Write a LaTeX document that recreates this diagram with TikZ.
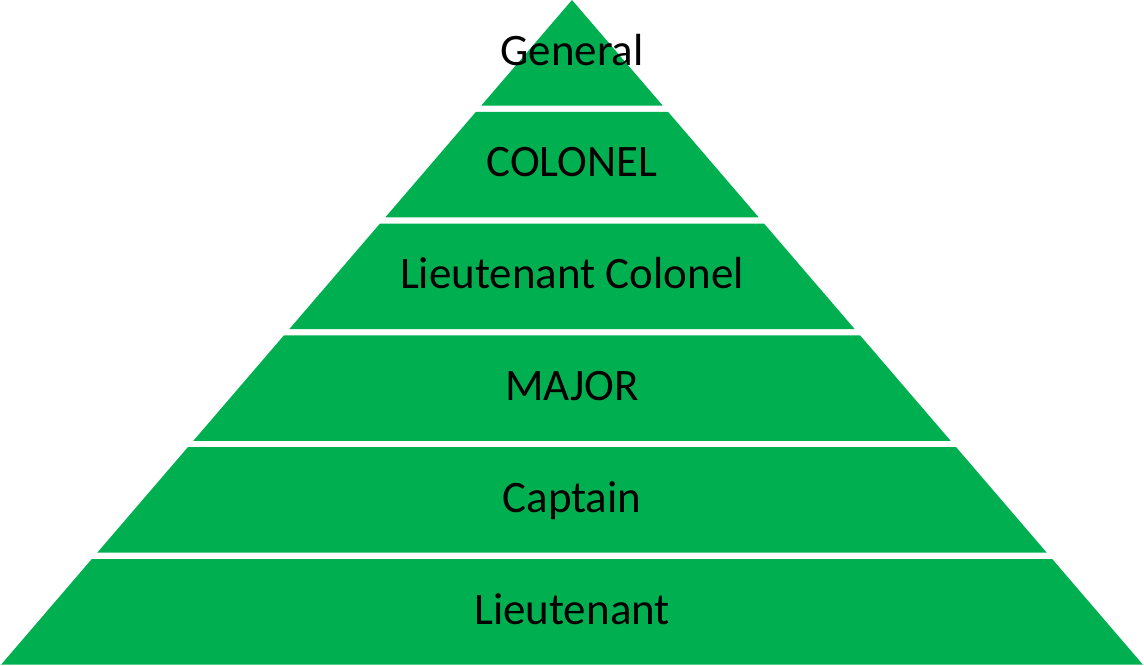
\documentclass[tikz,border=0pt]{standalone}
\usepackage{fontspec}
\setmainfont{Carlito}
\definecolor{rankgreen}{HTML}{00B050}

\begin{document}
\begin{tikzpicture}[x=0.02cm,y=-0.02cm,
    rank/.style={anchor=base,text=black,inner sep=0pt,font=\fontsize{25.6}{30}\selectfont}]
      \useasboundingbox (0,0) rectangle (1144,666);
      % bands from the top, each cut from the same triangle
      \foreach \k/\rname/\rtext in {0/general/General,1/colonel/COLONEL,
          2/ltcolonel/Lieutenant Colonel,3/major/MAJOR,4/captain/Captain,
          5/lieutenant/Lieutenant}{
        \pgfmathsetmacro{\ya}{111.8*\k}
        \pgfmathsetmacro{\yb}{111.8*\k+105.5}
        \fill [rankgreen] ({572-0.859*\ya},\ya) -- ({572+0.859*\ya},\ya)
          -- ({572+0.859*\yb},\yb) -- ({572-0.859*\yb},\yb) -- cycle;
        \node[rank] (\rname) at (572,{111.8*\k+65}) {\rtext};
      }
    \end{tikzpicture}
\end{document}
